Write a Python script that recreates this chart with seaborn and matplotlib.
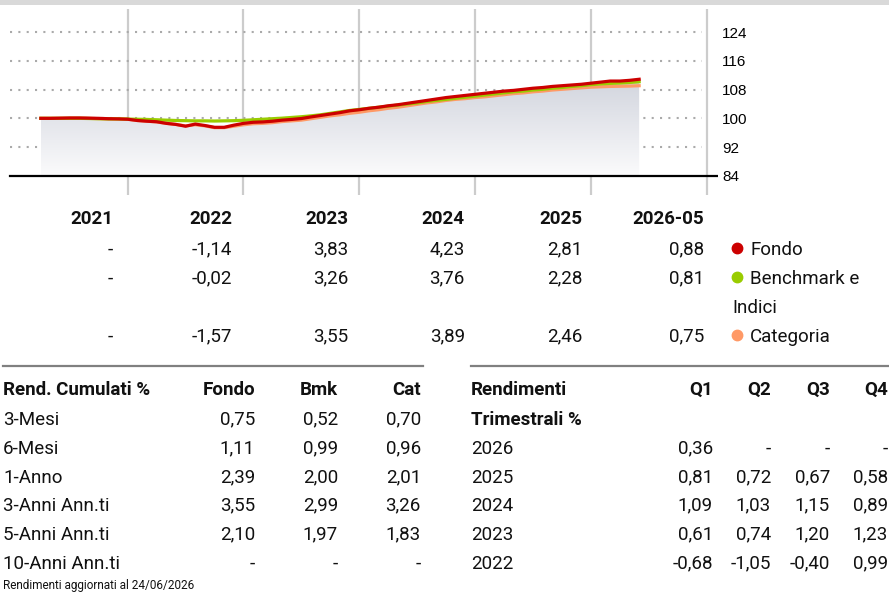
import numpy as np
import pandas as pd
import matplotlib
matplotlib.use("Agg")
import matplotlib.pyplot as plt
import seaborn as sns
from matplotlib.patches import Polygon, Rectangle
from matplotlib.lines import Line2D
from matplotlib.colors import LinearSegmentedColormap

# ---------------------------------------------------------------- data
# month-end index values (base 100), March 2021 - May 2026
fondo = [
    100.0, 100.0, 100.05, 100.1, 100.1, 100.05, 100.0, 99.9, 99.85, 99.75,
    99.4, 99.2, 99.05, 98.6, 98.3, 97.8, 98.4, 98.0, 97.5, 97.5, 98.1, 98.6,
    98.9, 99.0, 99.2, 99.5, 99.7, 99.95, 100.4, 100.8, 101.2, 101.6, 102.1, 102.4,
    102.8, 103.1, 103.5, 103.8, 104.2, 104.6, 105.0, 105.4, 105.8, 106.1, 106.4, 106.7,
    107.0, 107.3, 107.6, 107.8, 108.1, 108.4, 108.6, 108.9, 109.1, 109.3, 109.5, 109.8,
    110.1, 110.4, 110.4, 110.6, 110.9,
]
benchmark = [
    100.0, 100.0, 100.0, 100.0, 100.0, 99.95, 99.9, 99.85, 99.85, 99.8,
    99.75, 99.7, 99.6, 99.5, 99.4, 99.35, 99.3, 99.3, 99.25, 99.3, 99.35, 99.45,
    99.6, 99.75, 99.9, 100.05, 100.25, 100.45, 100.7, 101.0, 101.4, 101.8, 102.2, 102.5,
    102.8, 103.1, 103.4, 103.7, 104.0, 104.3, 104.7, 105.0, 105.3, 105.6, 105.9, 106.2,
    106.5, 106.8, 107.1, 107.4, 107.6, 107.9, 108.1, 108.4, 108.6, 108.9, 109.1, 109.4,
    109.6, 109.75, 109.85, 110.0, 110.2,
]
categoria = [
    100.0, 100.0, 100.0, 100.05, 100.05, 100.0, 99.9, 99.85, 99.8, 99.75,
    99.4, 99.2, 99.0, 98.6, 98.3, 97.9, 98.2, 97.9, 97.4, 97.4, 97.8, 98.2,
    98.5, 98.6, 98.8, 99.1, 99.3, 99.5, 99.9, 100.3, 100.7, 101.0, 101.4, 101.7,
    102.1, 102.4, 102.8, 103.1, 103.5, 103.9, 104.3, 104.6, 105.0, 105.3, 105.5, 105.8,
    106.0, 106.3, 106.6, 106.9, 107.1, 107.4, 107.6, 107.9, 108.1, 108.3, 108.5, 108.7,
    108.8, 108.9, 108.95, 109.0, 109.1,
]
months = pd.period_range("2021-03", "2026-05", freq="M")

series_names = ["Fondo", "Benchmark e Indici", "Categoria"]
series_colors = {"Fondo": "#cc0000", "Benchmark e Indici": "#99cc00", "Categoria": "#ff9966"}

y_ticks = [84, 92, 100, 108, 116, 124]

# calendar-year returns
years = ["2021", "2022", "2023", "2024", "2025", "2026-05"]
ann_fondo = [None, -1.14, 3.83, 4.23, 2.81, 0.88]
ann_bmk = [None, -0.02, 3.26, 3.76, 2.28, 0.81]
ann_cat = [None, -1.57, 3.55, 3.89, 2.46, 0.75]

# cumulative returns
cum_labels = ["3-Mesi", "6-Mesi", "1-Anno", "3-Anni Ann.ti", "5-Anni Ann.ti", "10-Anni Ann.ti"]
cum_fondo = [0.75, 1.11, 2.39, 3.55, 2.10, None]
cum_bmk = [0.52, 0.99, 2.00, 2.99, 1.97, None]
cum_cat = [0.70, 0.96, 2.01, 3.26, 1.83, None]

# quarterly returns
q_years = ["2026", "2025", "2024", "2023", "2022"]
q1 = [0.36, 0.81, 1.09, 0.61, -0.68]
q2 = [None, 0.72, 1.03, 0.74, -1.05]
q3 = [None, 0.67, 1.15, 1.20, -0.40]
q4 = [None, 0.58, 0.89, 1.23, 0.99]

# ---------------------------------------------------------------- helpers
W, H = 889, 592
NARROW = ["Liberation Sans Narrow", "Roboto", "DejaVu Sans"]
ARIAL = ["Liberation Sans", "DejaVu Sans"]


def fx(px):
    return px / W


def fy(py):
    return 1 - py / H


def fmt(v):
    return "-" if v is None else f"{v:.2f}".replace(".", ",")


fig = plt.figure(figsize=(W / 100, H / 100), dpi=100)
fig.patch.set_facecolor("white")


def txt(x, yc, s, ha="left", bold=False, size=13.5):
    # yc is the visual centre of digits/caps in pixels
    em = size * 100 / 72
    fig.text(fx(x), fy(yc + 0.36 * em), s, ha=ha, va="baseline",
             fontsize=size, fontweight="bold" if bold else "normal",
             family=NARROW, color="#111111")


# top band
fig.add_artist(Rectangle((0, fy(4.5)), 1, 4.5 / H, transform=fig.transFigure,
                         facecolor="#d9d9d9", edgecolor="none"))

# ---------------------------------------------------------------- chart
px_per_year = 115.8
x0_px = 11.9            # pixel position of 1 Jan 2021
px_per_unit = 3.585
y84_px = 175.7
ax_left_px, ax_right_px = 0, 718
ax_top_px, ax_bot_px = 9, 195


def px_to_year(p):
    return 2021 + (p - x0_px) / px_per_year


def py_to_val(p):
    return 84 + (y84_px - p) / px_per_unit


ax = fig.add_axes([fx(ax_left_px), fy(ax_bot_px),
                   fx(ax_right_px - ax_left_px), (ax_bot_px - ax_top_px) / H])
xlim = (px_to_year(ax_left_px), px_to_year(ax_right_px))
ylim = (py_to_val(ax_bot_px), py_to_val(ax_top_px))

xpos = np.array([p.year + p.month / 12 for p in months])
df = pd.DataFrame({
    "anno": np.tile(xpos, 3),
    "valore": np.concatenate([fondo, benchmark, categoria]),
    "serie": np.repeat(series_names, len(xpos)),
})

# gradient area below the fund line
verts = [(xpos[0], 84)] + list(zip(xpos, fondo)) + [(xpos[-1], 84)]
clip = Polygon(verts, closed=True, facecolor="none", edgecolor="none")
ax.add_patch(clip)
cmap = LinearSegmentedColormap.from_list("area", ["#fbfbfc", "#d2d5de"])
grad = np.linspace(0, 1, 256).reshape(-1, 1)
im = ax.imshow(grad, extent=[xpos[0], xpos[-1], 84, max(fondo)], origin="lower",
               aspect="auto", cmap=cmap, zorder=1, interpolation="bilinear")
im.set_clip_path(clip)

# grid
for yr in range(2022, 2028):
    ax.axvline(yr, color="#cccccc", lw=1.6, zorder=0.5)
for t in y_ticks[1:]:
    ax.plot([px_to_year(10), px_to_year(702)], [t, t], color="#aaaaaa", lw=1.5,
            ls=(0, (1, 3)), zorder=0.6, solid_capstyle="butt")
ax.plot([px_to_year(10), xlim[1]], [84, 84], color="black", lw=1.6, zorder=3)

sns.lineplot(data=df, x="anno", y="valore", hue="serie",
             hue_order=["Categoria", "Benchmark e Indici", "Fondo"],
             palette=series_colors, linewidth=2.3, legend=False, ax=ax, zorder=4)

ax.set_xlim(*xlim)
ax.set_ylim(*ylim)
ax.set_xlabel("")
ax.set_ylabel("")
ax.set_xticks([])
ax.yaxis.tick_right()
ax.set_yticks(y_ticks)
ax.set_yticklabels([str(t) for t in y_ticks], family=ARIAL, fontsize=11)
ax.tick_params(axis="y", length=0, pad=3)
for s in ax.spines.values():
    s.set_visible(False)
ax.patch.set_alpha(0)

# ---------------------------------------------------------------- annual table
col_right = [113, 232, 348, 465, 582, 704]
for x, lab in zip(col_right, years):
    txt(x, 217, lab, ha="right", bold=True)
for row_y, vals in [(248, ann_fondo), (277, ann_bmk), (335, ann_cat)]:
    for x, v in zip(col_right, vals):
        txt(x, row_y, fmt(v), ha="right")

# legend
for row_y, name in [(248, "Fondo"), (277, "Benchmark e Indici"), (335, "Categoria")]:
    fig.add_artist(Line2D([fx(737)], [fy(row_y)], marker="o", markersize=7.5,
                          color=series_colors[name], transform=fig.transFigure, lw=0))
txt(750, 248, "Fondo")
txt(750, 277, "Benchmark e")
txt(732, 306, "Indici")
txt(750, 335, "Categoria")

# separators
fig.add_artist(Line2D([fx(3), fx(423)], [fy(366), fy(366)], color="#808080", lw=1.6,
                      transform=fig.transFigure))
fig.add_artist(Line2D([fx(471), fx(889)], [fy(366), fy(366)], color="#808080", lw=1.6,
                      transform=fig.transFigure))

# ---------------------------------------------------------------- cumulative table
row_ys = [418, 447, 476, 504, 533, 562]
txt(3, 388, "Rend. Cumulati %", bold=True)
for x, lab in zip([255, 338, 421], ["Fondo", "Bmk", "Cat"]):
    txt(x, 388, lab, ha="right", bold=True)
for i, y in enumerate(row_ys):
    txt(3, y, cum_labels[i])
    for x, col in zip([255, 338, 421], [cum_fondo, cum_bmk, cum_cat]):
        txt(x, y, fmt(col[i]), ha="right")
txt(3, 585, "Rendimenti aggiornati al 24/06/2026", size=8.5)

# ---------------------------------------------------------------- quarterly table
q_right = [713, 771, 830, 888]
txt(471, 388, "Rendimenti", bold=True)
txt(471, 418, "Trimestrali %", bold=True)
for x, lab in zip(q_right, ["Q1", "Q2", "Q3", "Q4"]):
    txt(x, 388, lab, ha="right", bold=True)
for i, y in enumerate(row_ys[1:]):
    txt(471, y, q_years[i])
    for x, col in zip(q_right, [q1, q2, q3, q4]):
        txt(x, y, fmt(col[i]), ha="right")

fig.savefig("out.png", dpi=100)
